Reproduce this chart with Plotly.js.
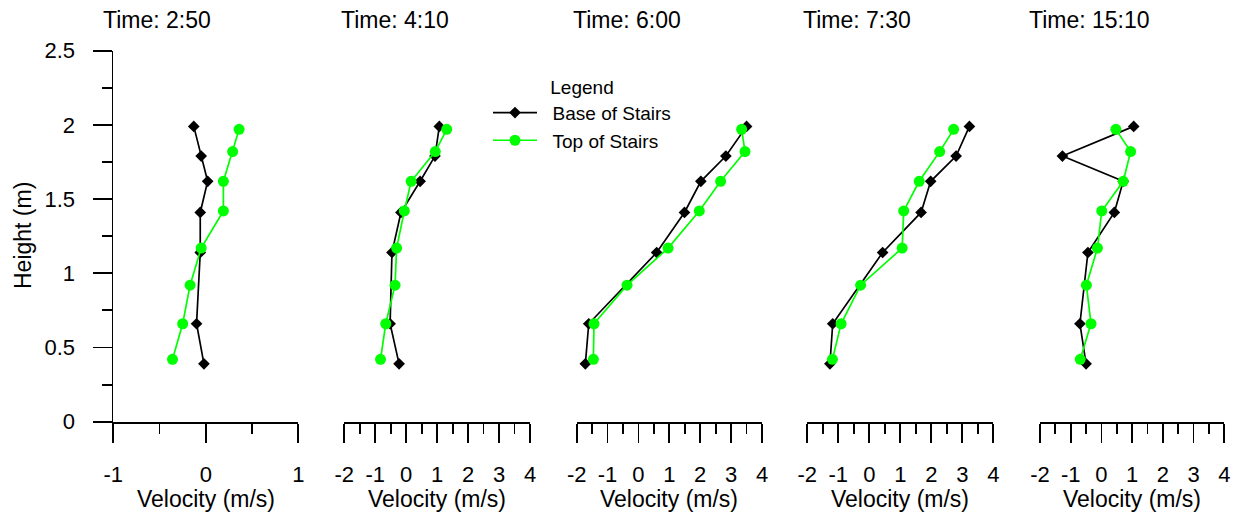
<!DOCTYPE html>
<html>
<head>
<meta charset="utf-8">
<script src="https://cdn.plot.ly/plotly-3.0.1.min.js"></script>
<style>
  html, body { margin: 0; padding: 0; background: #fff; }
  #chart { width: 1239px; height: 514px; }
</style>
</head>
<body>
<div id="chart"></div>
<script>
// Measurement heights (m) for each profile
const heightsBase = [1.99, 1.79, 1.62, 1.41, 1.14, 0.66, 0.39];
const heightsTop = [1.97, 1.82, 1.62, 1.42, 1.17, 0.92, 0.66, 0.42];

// Panel titles
const timeLabels = ['Time: 2:50', 'Time: 4:10', 'Time: 6:00', 'Time: 7:30', 'Time: 15:10'];

// Tick values and labels (plain hyphen for negatives)
const heightTicks = [0, 0.5, 1, 1.5, 2, 2.5];
const heightTickText = ['0', '0.5', '1', '1.5', '2', '2.5'];
const velTicksNarrow = [-1, 0, 1];
const velTickTextNarrow = ['-1', '0', '1'];
const velTicksWide = [-2, -1, 0, 1, 2, 3, 4];
const velTickTextWide = ['-2', '-1', '0', '1', '2', '3', '4'];

// Velocities (m/s) at the base of the stairs
const base250 = [-0.13, -0.05, 0.02, -0.06, -0.06, -0.10, -0.02];
const base410 = [1.07, 0.93, 0.45, -0.17, -0.46, -0.52, -0.23];
const base600 = [3.50, 2.83, 2.02, 1.49, 0.59, -1.61, -1.72];
const base730 = [3.23, 2.80, 1.98, 1.67, 0.43, -1.18, -1.27];
const base1510 = [1.05, -1.27, 0.71, 0.42, -0.44, -0.70, -0.50];

// Velocities (m/s) at the top of the stairs
const top250 = [0.36, 0.29, 0.19, 0.19, -0.05, -0.17, -0.25, -0.36];
const top410 = [1.31, 0.94, 0.16, -0.06, -0.31, -0.36, -0.66, -0.83];
const top600 = [3.34, 3.45, 2.66, 1.97, 0.96, -0.37, -1.44, -1.46];
const top730 = [2.72, 2.27, 1.61, 1.11, 1.06, -0.28, -0.91, -1.19];
const top1510 = [0.47, 0.95, 0.71, 0.01, -0.13, -0.49, -0.34, -0.69];

const seriesBase = [base250, base410, base600, base730, base1510];
const seriesTop = [top250, top410, top600, top730, top1510];

const W = 1239, H = 514;
const FONT = 'Arial, "Liberation Sans", sans-serif';
const GREEN = '#00ff00';
const GAP = '\u00a0\u00a0'; // extra space between legend symbol and label
const AXW = 1.8; // axis line and tick width

// Horizontal extent of each panel (px)
const panelLeft = [113.3, 344.3, 576.7, 807.3, 1040];
const panelRight = [298.3, 530, 762, 993.3, 1224.3];
const titleCenter = [157, 395, 627, 857, 1089];
const yTop = 50.7, yBottom = 421.7;

const px = v => v / W;
const py = v => 1 - v / H;

const traces = [];
const layout = {
  width: W, height: H,
  margin: { l: 0, r: 0, t: 0, b: 0 },
  paper_bgcolor: '#fff',
  plot_bgcolor: 'rgba(0,0,0,0)',
  font: { family: FONT, color: '#000', size: 22 },
  showlegend: true,
  legend: {
    x: px(488), y: py(69), xanchor: 'left', yanchor: 'top',
    bgcolor: 'rgba(0,0,0,0)', borderwidth: 0,
    font: { family: FONT, size: 19, color: '#000' },
    title: { text: 'Legend', side: 'top center', font: { family: FONT, size: 19, color: '#000' } },
    itemwidth: 44,
    tracegroupgap: 0
  },
  yaxis: {
    domain: [py(yBottom), py(yTop)],
    range: [0, 2.5],
    anchor: 'x',
    tickmode: 'array', tickvals: heightTicks, ticktext: heightTickText,
    ticks: 'outside', ticklen: 19, tickwidth: AXW, tickcolor: '#000',
    ticklabelstandoff: 13,
    minor: { dtick: 0.25, ticks: 'outside', ticklen: 10, tickwidth: AXW, tickcolor: '#000' },
    showline: true, linewidth: AXW, linecolor: '#000',
    showgrid: false, zeroline: false,
    tickfont: { family: FONT, size: 22, color: '#000' },
    fixedrange: true
  },
  annotations: []
};

for (let i = 0; i < 5; i++) {
  const ax = i === 0 ? 'x' : 'x' + (i + 1);
  const key = i === 0 ? 'xaxis' : 'xaxis' + (i + 1);
  layout[key] = {
    domain: [px(panelLeft[i]), px(panelRight[i])],
    range: i === 0 ? [-1, 1] : [-2, 4],
    anchor: 'y',
    tickmode: 'array',
    tickvals: i === 0 ? velTicksNarrow : velTicksWide,
    ticktext: i === 0 ? velTickTextNarrow : velTickTextWide,
    ticks: 'outside', ticklen: 19, tickwidth: AXW, tickcolor: '#000',
    ticklabelstandoff: 13,
    minor: { dtick: 0.5, ticks: 'outside', ticklen: 10, tickwidth: AXW, tickcolor: '#000' },
    showline: true, linewidth: AXW, linecolor: '#000',
    showgrid: false, zeroline: false,
    tickfont: { family: FONT, size: 22, color: '#000' },
    fixedrange: true
  };

  traces.push({
    type: 'scatter', mode: 'lines+markers',
    x: seriesBase[i], y: heightsBase,
    xaxis: ax, yaxis: 'y',
    name: GAP + 'Base of Stairs', legendgroup: 'base', showlegend: i === 0,
    line: { color: '#000', width: 1.7 },
    marker: { symbol: 'diamond', size: 9, color: '#000' },
    cliponaxis: false
  });
  traces.push({
    type: 'scatter', mode: 'lines+markers',
    x: seriesTop[i], y: heightsTop,
    xaxis: ax, yaxis: 'y',
    name: GAP + 'Top of Stairs', legendgroup: 'top', showlegend: i === 0,
    line: { color: GREEN, width: 1.7 },
    marker: { symbol: 'circle', size: 11, color: GREEN },
    cliponaxis: false
  });

  // Panel title
  layout.annotations.push({
    xref: 'paper', yref: 'paper', x: px(titleCenter[i]), y: py(20),
    xanchor: 'center', yanchor: 'middle', showarrow: false,
    text: timeLabels[i], font: { family: FONT, size: 23, color: '#000' }
  });
  // Velocity axis title
  layout.annotations.push({
    xref: 'paper', yref: 'paper', x: px((panelLeft[i] + panelRight[i]) / 2), y: py(499),
    xanchor: 'center', yanchor: 'middle', showarrow: false,
    text: 'Velocity (m/s)', font: { family: FONT, size: 23, color: '#000' }
  });
}

// Height axis title
layout.annotations.push({
  xref: 'paper', yref: 'paper', x: px(23), y: py(236),
  xanchor: 'center', yanchor: 'middle', showarrow: false, textangle: -90,
  text: 'Height (m)', font: { family: FONT, size: 23, color: '#000' }
});

Plotly.newPlot('chart', traces, layout, { displayModeBar: false, staticPlot: true });
</script>
</body>
</html>
